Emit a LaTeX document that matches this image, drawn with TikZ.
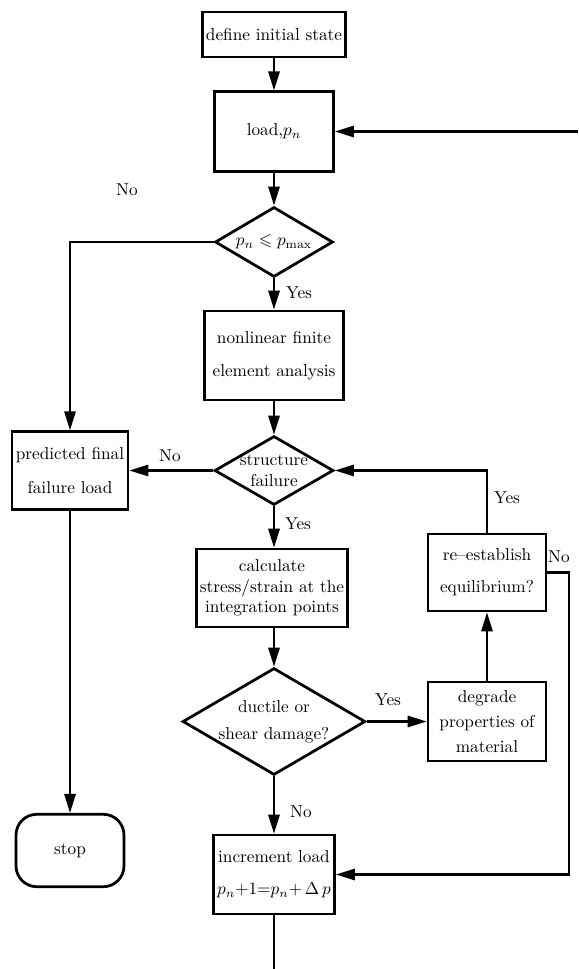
\documentclass[tikz,border=0pt]{standalone}
\usepackage{amsmath,amssymb}
\usepackage{tikz}
\usetikzlibrary{arrows.meta,shapes.geometric}

\begin{document}
\begin{tikzpicture}[
    x=0.58pt, y=-0.58pt,
    block/.style={draw, line width=1.6pt, align=center, inner sep=1pt},
    decision/.style={draw, diamond, line width=1.6pt, inner sep=0pt},
    terminal/.style={draw, rounded corners=12pt, line width=1.6pt},
    arrow/.style={-{Triangle[length=11pt,width=6.5pt]}, line width=1.3pt},
    line/.style={line width=1.3pt},
]
    \useasboundingbox (0,0) rectangle (578,969);

    \node[block, minimum width=83pt, minimum height=26pt] (init) at (274,34.5) {define initial state};
    \node[block, minimum width=69pt, minimum height=46pt] (load) at (274,131.5) {load,$p_n$};
    \node[decision, minimum width=68.4pt, minimum height=40.6pt] (cond) at (274,242) {};
    \node (condtxt) at (cond) {$p_n\leqslant p_{\max}$};
    \node[block, minimum width=81pt, minimum height=51.6pt] (fea) at (274,355.5) {nonlinear finite\\[7pt]element analysis};
    \node[decision, minimum width=69pt, minimum height=40pt] (fail) at (274,470.5) {};
    \node[align=center] (failtxt) at (fail) {structure\\failure};
    \node[block, minimum width=67.3pt, minimum height=45pt] (pred) at (70,470.5) {predicted final\\[7.5pt]failure load};
    \node[block, minimum width=87.6pt, minimum height=45.2pt] (calc) at (272,588) {calculate\\stress/strain at the\\integration points};
    \node[block, minimum width=68.4pt, minimum height=44.7pt] (reest) at (487,572.5) {re--establish\\[6.5pt]equilibrium?};
    \node[decision, minimum width=106pt, minimum height=62pt] (duct) at (274,721.5) {};
    \node[align=center] (ducttxt) at (duct) {ductile or\\[3.5pt]shear damage?};
    \node[block, minimum width=68.4pt, minimum height=45.8pt] (degr) at (487,721.5) {degrade\\[2.5pt]properties of\\[2.5pt]material};
    \node[block, minimum width=70.2pt, minimum height=45.8pt] (incr) at (274,874.5) {increment load\\[6.5pt]$p_n{+}1{=}p_n{+}\,\Delta\,p$};
    \node[terminal, minimum width=62.6pt, minimum height=42pt] (stop) at (70,850.5) {stop};

    \coordinate (back) at (578,131.5);
    \coordinate (turn) at (569,572.5);
    \coordinate (exit) at (274,969);

    \draw[arrow] (init) -- (load);
    \draw[arrow] (back) -- (load);
    \draw[arrow] (load) -- (cond);
    \draw[arrow] (cond.west) -| (pred.north);
    \node (nocond) at (127,190) {No};
    \draw[arrow] (cond) -- (fea);
    \node (yescond) at (299,293) {Yes};
    \draw[arrow] (fea) -- (fail);
    \draw[arrow] (fail.west) -- (pred.east);
    \node (nofail) at (170,456) {No};
    \draw[arrow] (fail.south) -- (fail.south |- calc.north);
    \node (yesfail) at (298,524) {Yes};
    \draw[arrow] (calc.south -| duct.north) -- (duct.north);
    \draw[arrow] (duct.east) -- (degr.west);
    \node (yesduct) at (388,700) {Yes};
    \draw[arrow] (degr) -- (reest);
    \draw[arrow] (reest.north) |- (fail.east);
    \node (yesreest) at (507,498) {Yes};
    \draw[arrow] (reest.east) -- (turn) |- (incr.east);
    \node (noreest) at (559,557) {No};
    \draw[arrow] (duct) -- (incr);
    \node (noduct) at (301,812) {No};
    \draw[arrow] (pred) -- (stop);
    \draw[line] (incr) -- (exit);
\end{tikzpicture}
\end{document}
